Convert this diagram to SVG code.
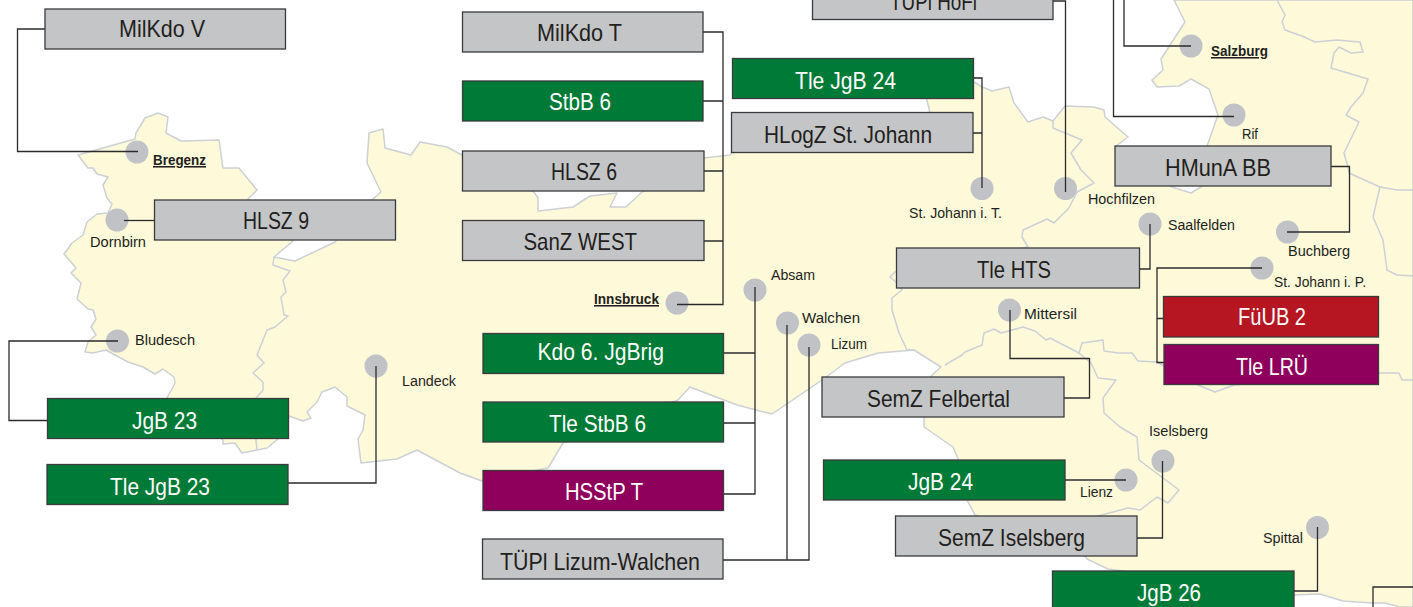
<svg xmlns="http://www.w3.org/2000/svg" width="1413" height="607" viewBox="0 0 1413 607">
<style>
.bg{fill:#fff}
.land{fill:#fef9d9;stroke:#cdd0d5;stroke-width:1.5;stroke-linejoin:round}
.inner{fill:none;stroke:#cdd0d5;stroke-width:1.5;stroke-linejoin:round}
.box{stroke:#3b3b3d;stroke-width:1.3}
.grey{fill:#c4c5c7}.green{fill:#007a37}.red{fill:#b61621}.purple{fill:#8e005c}
.dot{fill:#c1c2c6}
.lines path{fill:none;stroke:#2b2b2d;stroke-width:1.3}
text{font-family:"Liberation Sans Narrow","Liberation Sans",Arial,sans-serif;fill:#231f20}
.t{font-size:24px;text-anchor:start}
.w{fill:#fff}
.s{font-size:15.5px}
.b{font-size:15.5px;font-weight:bold;text-decoration:underline}
</style>
<rect class="bg" width="1413" height="607"/>
<g id="map">
<polygon class="land" points="78,155 135,139 136,133 145,118 158,113 168,117 166,133 181,141 219,140 223,168 239,168 257,190 248,199 293,241 274,257 295,261 335,242 373,199 381,192 367,163 369,133 383,129 385,148 411,155 420,142 447,147 462,155 534,192 538,198 538,211 573,207 590,196 617,193 610,207 626,207 642,192 704,158 730,155 732,153 930,112 926,97 974,82 982,87 992,91 1009,87 1014,103 1028,122 1043,117 1053,121 1065,106 1094,107 1104,110 1105,117 1128,137 1115,147 1172,187 1191,193 1201,187 1207,146 1218,115 1209,89 1191,79 1179,86 1157,87 1152,80 1163,70 1161,59 1185,22 1174,0 1413,0 1413,607 1400,607 1385,603 1372,603 1343,601 1320,594 1294,595 1108,569 1087,559 1086,557 975,515 967,500 958,459 953,447 924,427 924,418 931,376 941,367 914,350 878,353 845,363 822,380 772,414 737,405 690,387 678,400 563,443 548,468 482,481 460,473 417,450 397,459 361,463 358,439 363,430 365,415 347,406 347,397 335,387 322,392 317,402 307,412 311,418 303,421 289,416 278,439 267,448 257,450 242,453 235,443 223,444 223,440 167,398 175,383 174,377 163,369 155,374 143,367 128,362 106,350 93,353 85,352 88,342 96,335 91,327 96,319 93,310 88,309 77,299 81,283 71,273 76,268 64,254 72,243 83,235 87,222 97,214 108,213 112,204 107,198 103,185 108,177 97,174 93,168 88,168"/>
<polyline class="inner" points="274,257 273,265 290,271 283,280 286,292 281,297 284,315 288,316 275,327 267,330 257,355 264,363 253,373 263,382 263,390 256,398 256,440 257,450"/>
<polyline class="inner" points="1053,121 1053,128 1082,140 1071,153 1081,170 1094,183 1077,192 1069,208 1054,223 1047,219 1023,230 1022,237 1028,247 895,272 890,277 896,282 902,290 892,298 892,310 899,333 907,350 914,350"/>
<polyline class="inner" points="945,365 962,355 965,352 982,345 984,333 994,329 1001,333 1023,327 1035,331 1046,340 1050,338 1079,353 1082,343 1103,340 1104,351 1118,353 1132,353 1138,361 1157,362 1198,385 1215,392 1234,385 1379,373 1399,373 1402,380 1413,380"/>
<polyline class="inner" points="1079,353 1091,363 1098,378 1116,380 1103,398 1104,413 1120,427 1137,437 1139,460 1179,490 1168,503 1157,497 1140,510 1128,508 1098,516 1060,530"/>
<polyline class="inner" points="1277,0 1285,15 1282,22 1285,30 1302,36 1315,42 1337,40 1360,42 1363,52 1351,53 1339,47 1334,53 1331,68 1368,79 1363,93 1351,107 1346,115 1359,122 1344,153 1348,167 1349,173 1380,187 1397,190 1413,190"/>
<polyline class="inner" points="1380,187 1373,217 1383,240 1387,270 1397,275 1413,276"/>
</g>
<g id="loc-bregenz"><circle class="dot" cx="137" cy="152" r="11.5"/><text class="b" x="153" y="165" textLength="53" lengthAdjust="spacingAndGlyphs">Bregenz</text></g>
<g id="loc-dornbirn"><circle class="dot" cx="117" cy="220" r="11.5"/><text class="s" x="90" y="247" textLength="56" lengthAdjust="spacingAndGlyphs">Dornbirn</text></g>
<g id="loc-bludesch"><circle class="dot" cx="117.500" cy="341" r="11.5"/><text class="s" x="135" y="345" textLength="60" lengthAdjust="spacingAndGlyphs">Bludesch</text></g>
<g id="loc-landeck"><circle class="dot" cx="376" cy="366" r="11.5"/><text class="s" x="402" y="386" textLength="54" lengthAdjust="spacingAndGlyphs">Landeck</text></g>
<g id="loc-innsbruck"><circle class="dot" cx="677" cy="303" r="11.5"/><text class="b" x="594" y="304" textLength="65" lengthAdjust="spacingAndGlyphs">Innsbruck</text></g>
<g id="loc-absam"><circle class="dot" cx="755" cy="290" r="11.5"/><text class="s" x="771" y="280" textLength="44" lengthAdjust="spacingAndGlyphs">Absam</text></g>
<g id="loc-walchen"><circle class="dot" cx="787.500" cy="323" r="11.5"/><text class="s" x="802" y="323" textLength="58" lengthAdjust="spacingAndGlyphs">Walchen</text></g>
<g id="loc-lizum"><circle class="dot" cx="809" cy="345" r="11.5"/><text class="s" x="831" y="349" textLength="36" lengthAdjust="spacingAndGlyphs">Lizum</text></g>
<g id="loc-stjohann-t"><circle class="dot" cx="982" cy="188.500" r="11.5"/><text class="s" x="909" y="218" textLength="93" lengthAdjust="spacingAndGlyphs">St. Johann i. T.</text></g>
<g id="loc-hochfilzen"><circle class="dot" cx="1065.500" cy="188.500" r="11.5"/><text class="s" x="1088" y="204" textLength="67" lengthAdjust="spacingAndGlyphs">Hochfilzen</text></g>
<g id="loc-saalfelden"><circle class="dot" cx="1150" cy="224" r="11.5"/><text class="s" x="1168" y="230" textLength="67" lengthAdjust="spacingAndGlyphs">Saalfelden</text></g>
<g id="loc-salzburg"><circle class="dot" cx="1191" cy="46" r="11.5"/><text class="b" x="1211" y="56" textLength="57" lengthAdjust="spacingAndGlyphs">Salzburg</text></g>
<g id="loc-rif"><circle class="dot" cx="1234" cy="115" r="11.5"/><text class="s" x="1242" y="139" textLength="16" lengthAdjust="spacingAndGlyphs">Rif</text></g>
<g id="loc-buchberg"><circle class="dot" cx="1287.500" cy="232" r="11.5"/><text class="s" x="1288" y="256" textLength="62" lengthAdjust="spacingAndGlyphs">Buchberg</text></g>
<g id="loc-stjohann-p"><circle class="dot" cx="1262" cy="268" r="11.5"/><text class="s" x="1274" y="287" textLength="92" lengthAdjust="spacingAndGlyphs">St. Johann i. P.</text></g>
<g id="loc-mittersil"><circle class="dot" cx="1009.500" cy="310" r="11.5"/><text class="s" x="1024" y="319" textLength="53" lengthAdjust="spacingAndGlyphs">Mittersil</text></g>
<g id="loc-iselsberg"><circle class="dot" cx="1163" cy="461" r="11.5"/><text class="s" x="1149" y="436" textLength="59" lengthAdjust="spacingAndGlyphs">Iselsberg</text></g>
<g id="loc-lienz"><circle class="dot" cx="1126" cy="480" r="11.5"/><text class="s" x="1080" y="497" textLength="33" lengthAdjust="spacingAndGlyphs">Lienz</text></g>
<g id="loc-spittal"><circle class="dot" cx="1317.500" cy="527.500" r="11.5"/><text class="s" x="1263" y="543" textLength="40" lengthAdjust="spacingAndGlyphs">Spittal</text></g>
<g id="connectors" class="lines">
<path d="M45 29H17.500V151.500H138"/>
<path d="M124 220.500H154"/>
<path d="M118 341H9V420.500H47"/>
<path d="M376 366V483H288"/>
<path d="M703 32H723V304.500H677M703 101H723M704 171H723M704 241H723"/>
<path d="M755 287V494H724M724 353H755M724 423H755"/>
<path d="M787 325V560M809 347V560H723"/>
<path d="M973 78H982V188M973 133H982"/>
<path d="M1053 1H1065.500V192"/>
<path d="M1191 46H1124V0"/>
<path d="M1234 116.500H1113.500V0"/>
<path d="M1331 166.500H1349.500V232H1287"/>
<path d="M1150 224V269H1139"/>
<path d="M1262 268H1157V362.500H1164M1157 318.500H1163"/>
<path d="M1010 310V358.500H1089.500V398H1064"/>
<path d="M1126 480H1065"/>
<path d="M1162.500 461V538H1137"/>
<path d="M1317.500 527V591H1294"/>
<path d="M1413 587H1373V607"/>
</g>
<g id="milkdo-v"><rect class="box grey" x="45" y="9" width="240.500" height="40"/><text class="t" x="119" y="37" textLength="86" lengthAdjust="spacingAndGlyphs">MilKdo V</text></g>
<g id="hlsz-9"><rect class="box grey" x="154.500" y="200" width="241" height="40"/><text class="t" x="243" y="228.500" textLength="66" lengthAdjust="spacingAndGlyphs">HLSZ 9</text></g>
<g id="jgb-23"><rect class="box green" x="47.500" y="398.500" width="241" height="40"/><text class="t w" x="132" y="428.500" textLength="65" lengthAdjust="spacingAndGlyphs">JgB 23</text></g>
<g id="tle-jgb-23"><rect class="box green" x="47" y="464.500" width="241" height="40"/><text class="t w" x="110" y="494.500" textLength="100" lengthAdjust="spacingAndGlyphs">Tle JgB 23</text></g>
<g id="milkdo-t"><rect class="box grey" x="462.500" y="12" width="240.500" height="40"/><text class="t" x="537" y="41" textLength="85" lengthAdjust="spacingAndGlyphs">MilKdo T</text></g>
<g id="stbb-6"><rect class="box green" x="462.500" y="81" width="240.500" height="40"/><text class="t w" x="549" y="110" textLength="62" lengthAdjust="spacingAndGlyphs">StbB 6</text></g>
<g id="hlsz-6"><rect class="box grey" x="462.500" y="151" width="241.500" height="40"/><text class="t" x="551" y="180" textLength="66" lengthAdjust="spacingAndGlyphs">HLSZ 6</text></g>
<g id="sanz-west"><rect class="box grey" x="462.500" y="220.500" width="241.500" height="40"/><text class="t" x="523.500" y="249.500" textLength="113.500" lengthAdjust="spacingAndGlyphs">SanZ WEST</text></g>
<g id="kdo-6-jgbrig"><rect class="box green" x="483" y="333.500" width="240.500" height="40"/><text class="t w" x="537.500" y="360" textLength="126.500" lengthAdjust="spacingAndGlyphs">Kdo 6. JgBrig</text></g>
<g id="tle-stbb-6"><rect class="box green" x="483" y="402" width="240.500" height="40"/><text class="t w" x="549" y="431.500" textLength="97" lengthAdjust="spacingAndGlyphs">Tle StbB 6</text></g>
<g id="hsstp-t"><rect class="box purple" x="483" y="470.500" width="240.500" height="40"/><text class="t w" x="565" y="500" textLength="78" lengthAdjust="spacingAndGlyphs">HSStP T</text></g>
<g id="tuepl-lizum"><rect class="box grey" x="482.500" y="539" width="240.500" height="40"/><text class="t" x="500" y="570" textLength="200" lengthAdjust="spacingAndGlyphs">TÜPl Lizum-Walchen</text></g>
<g id="tuepl-hofi"><rect class="box grey" x="812.500" y="-21" width="240.500" height="40.500"/><text class="t" x="890" y="10" textLength="87" lengthAdjust="spacingAndGlyphs">TÜPl HoFi</text></g>
<g id="tle-jgb-24"><rect class="box green" x="732.500" y="58.500" width="241" height="40"/><text class="t w" x="795" y="89" textLength="101" lengthAdjust="spacingAndGlyphs">Tle JgB 24</text></g>
<g id="hlogz"><rect class="box grey" x="731.500" y="112.500" width="241.500" height="40"/><text class="t" x="764" y="143" textLength="168" lengthAdjust="spacingAndGlyphs">HLogZ St. Johann</text></g>
<g id="hmuna-bb"><rect class="box grey" x="1115" y="146" width="216" height="40"/><text class="t" x="1165" y="176" textLength="106" lengthAdjust="spacingAndGlyphs">HMunA BB</text></g>
<g id="tle-hts"><rect class="box grey" x="896.500" y="248" width="243" height="40"/><text class="t" x="977" y="278" textLength="74" lengthAdjust="spacingAndGlyphs">Tle HTS</text></g>
<g id="fueub-2"><rect class="box red" x="1163.500" y="296.500" width="215" height="40.500"/><text class="t w" x="1238" y="325" textLength="68" lengthAdjust="spacingAndGlyphs">FüUB 2</text></g>
<g id="tle-lrue"><rect class="box purple" x="1164" y="344.500" width="214.500" height="40"/><text class="t w" x="1236" y="375" textLength="72" lengthAdjust="spacingAndGlyphs">Tle LRÜ</text></g>
<g id="semz-felbertal"><rect class="box grey" x="822" y="377" width="242" height="40"/><text class="t" x="867" y="407" textLength="143" lengthAdjust="spacingAndGlyphs">SemZ Felbertal</text></g>
<g id="jgb-24"><rect class="box green" x="823.500" y="460" width="241.500" height="40"/><text class="t w" x="908" y="490" textLength="65" lengthAdjust="spacingAndGlyphs">JgB 24</text></g>
<g id="semz-iselsberg"><rect class="box grey" x="895.500" y="516" width="241.500" height="40"/><text class="t" x="938" y="546" textLength="147" lengthAdjust="spacingAndGlyphs">SemZ Iselsberg</text></g>
<g id="jgb-26"><rect class="box green" x="1052.500" y="571" width="241.500" height="40"/><text class="t w" x="1137" y="601" textLength="64" lengthAdjust="spacingAndGlyphs">JgB 26</text></g>
</svg>
